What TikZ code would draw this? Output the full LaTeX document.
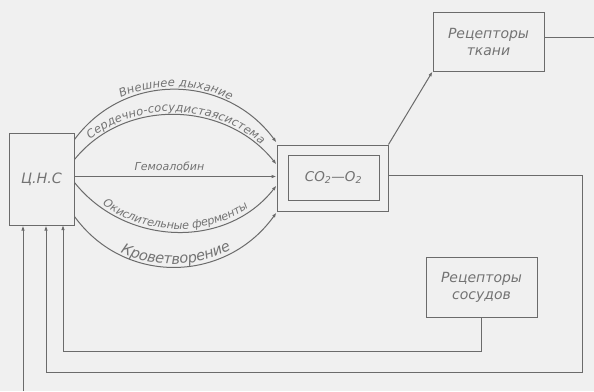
\documentclass[tikz,border=0pt]{standalone}
\usepackage{fontspec}
\setmainfont{DejaVu Sans}
\usetikzlibrary{decorations.text,arrows.meta,calc}
\definecolor{bg}{gray}{0.94}
\definecolor{ln}{gray}{0.42}
\definecolor{tc}{gray}{0.45}
\begin{document}
\begin{tikzpicture}[x=1pt,y=-1pt,
  box/.style={draw=ln,line width=1pt,inner sep=0pt,align=center,text=tc,font=\itshape\fontsize{14}{17}\selectfont},
  conn/.style={draw=ln,line width=1pt},
  arr/.style={conn,-{Latex[length=5pt,width=3.5pt]}},
  lbl/.style={text=tc,font=\itshape\fontsize{11}{13}\selectfont}]
\fill[bg] (0,0) rectangle (594,391);
\useasboundingbox (0,0) rectangle (594,391);
% nodes
\node[box,minimum width=65pt,minimum height=92pt,font=\itshape\fontsize{14.3}{17}\selectfont] (cns) at (41.5,179) {Ц.Н.С};
\node[box,minimum width=111pt,minimum height=66pt] (co) at (332.5,178) {};
\node[box,minimum width=91pt,minimum height=45pt,font=\itshape\fontsize{13.5}{16}\selectfont] (coin) at (333.5,177.5) {CO\textsubscript{2}—O\textsubscript{2}};
\node[box,minimum width=111pt,minimum height=59pt] (rt) at (488.5,41.5) {Рецепторы\\ткани};
\node[box,minimum width=111pt,minimum height=60pt] (rs) at (481.5,287) {Рецепторы\\сосудов};
\coordinate (rtend) at (594,37);
\coordinate (bot) at (23,391);
% curves
\draw[arr,postaction={decorate,decoration={text along path,text align=center,raise=3pt,
  text={|\itshape\fontsize{11.5}{13}\selectfont\color{tc}|Внешнее дыхание}}}]
  ($(cns.north east)+(0,7)$) .. controls (125,71) and (226,74) .. ($(co.north west)+(0,-2)$);
\draw[arr,postaction={decorate,decoration={text along path,text align=center,raise=3pt,
  text={|\itshape\fontsize{11.5}{13}\selectfont\color{tc}|Сердечно-сосудистаясистема}}}]
  ($(cns.north east)+(0,27)$) .. controls (125,97) and (226,101) .. ($(co.north west)+(0,20)$);
\draw[arr] ($(cns.north east)+(0,44)$) -- node[lbl,above=2pt,pos=0.47] {Гемоалобин} ($(co.north west)+(0,32)$);
\draw[arr,postaction={decorate,decoration={text along path,text align=center,raise=3pt,
  text={|\itshape\fontsize{11.2}{13}\selectfont\color{tc}|Окислительные ферменты}}}]
  ($(cns.north east)+(0,50)$) .. controls (125,246) and (226,250) .. ($(co.north west)+(0,41)$);
\draw[arr,postaction={decorate,decoration={text along path,text align=center,raise=3pt,
  text={|\itshape\fontsize{14.5}{17}\selectfont\color{tc}|Кроветворение}}}]
  ($(cns.north east)+(0,84)$) .. controls (125,286) and (226,283) .. ($(co.north west)+(0,68)$);
% right side
\draw[arr] (co.north east) -- (rt.south west);
\draw[conn] (rt.east |- rtend) -- (rtend);
\draw[arr] (co.east |- 0,175) -| (582,372) -| ($(cns.south)+(4.5,0)$);
\draw[arr] (rs.south |- 0,317) |- (63,351) -- (63,225);
\draw[arr] (bot) -- (bot |- cns.south);
\end{tikzpicture}
\end{document}
